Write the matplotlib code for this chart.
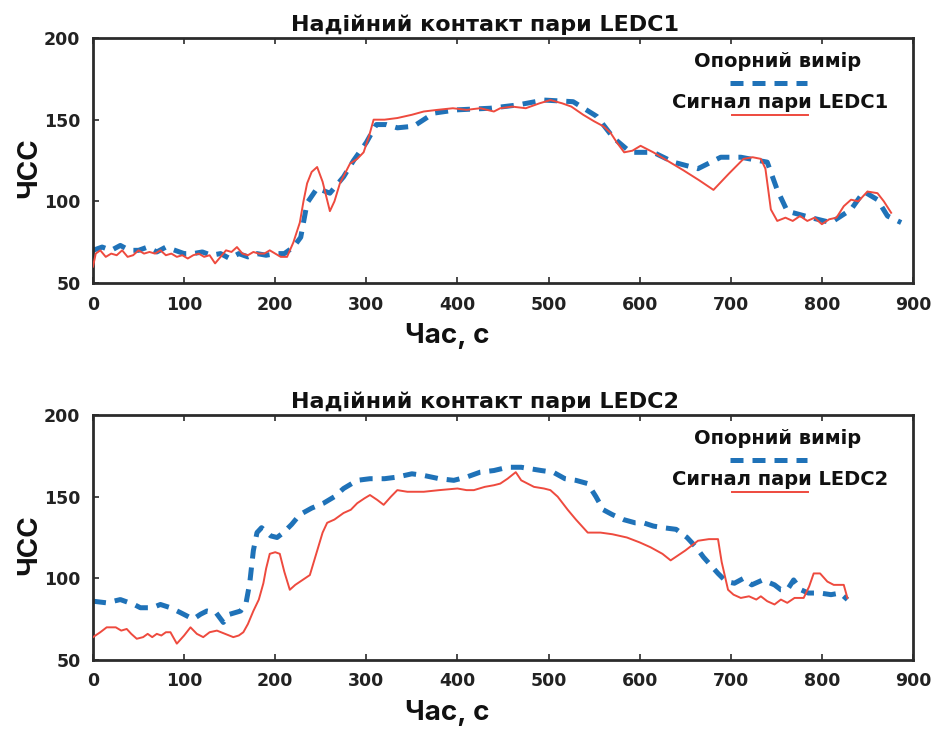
import matplotlib
matplotlib.use("Agg")
import matplotlib.pyplot as plt

plt.rcParams['font.family'] = ['DejaVu Sans']
plt.rcParams['font.weight'] = 'bold'

# ---------------- data ----------------
titles = ["Надійний контакт пари LEDC1", "Надійний контакт пари LEDC2"]
ref_label = "Опорний вимір"
sig_labels = ["Сигнал пари LEDC1", "Сигнал пари LEDC2"]
x_label = "Час, с"
y_label = "ЧСС"
x_ticks = [0, 100, 200, 300, 400, 500, 600, 700, 800, 900]
y_ticks = [50, 100, 150, 200]

# Panel 1 reference (blue dashed)
t_ref1 = [0, 10, 20, 30, 40, 50, 60, 70, 80, 90, 100, 110, 120, 130, 140, 150, 160, 170, 180,
          190, 200, 210, 220, 228, 235, 246, 260, 275, 286, 300, 311, 322, 334, 352, 374, 399,
          436, 466, 495, 527, 553, 571, 590, 615, 637, 664, 689, 711, 740, 751, 762, 788, 810,
          832, 846, 861, 872, 887]
v_ref1 = [70, 72, 70, 73, 70, 70, 72, 69, 72, 70, 68, 68, 69, 67, 68, 65, 68, 66, 68,
          67, 68, 68, 72, 78, 99, 108, 105, 115, 125, 136, 147, 147, 145, 146, 154, 156,
          157, 159, 162, 161, 152, 139, 130, 130, 124, 120, 127, 127, 124, 107, 94, 90, 87,
          95, 106, 101, 91, 87]

# Panel 1 signal (red)
t_sig1 = [0, 3, 8, 14, 20, 26, 32, 38, 44, 50, 56, 62, 68, 74, 80, 86, 92, 98, 104, 110,
          116, 122, 128, 134, 140, 146, 152, 158, 164, 170, 176, 182, 188, 194, 200, 206, 213,
          220, 227, 231, 235, 240, 246, 252, 260, 265, 271, 282, 290, 297, 303, 308, 320, 334,
          350, 363, 378, 395, 410, 425, 440, 447, 460, 475, 490, 502, 515, 525, 538, 550, 560,
          568, 575, 583, 592, 601, 608, 615, 630, 648, 665, 681, 698, 714, 724, 733, 738, 744,
          751, 760, 768, 776, 784, 792, 800, 808, 816, 824, 832, 840, 850, 861, 868, 876]
v_sig1 = [60, 68, 70, 66, 68, 67, 70, 66, 67, 70, 68, 69, 68, 70, 67, 68, 66, 67, 65, 67,
          68, 66, 67, 62, 66, 70, 69, 72, 68, 67, 69, 68, 68, 70, 68, 66, 66,
          75, 87, 100, 111, 118, 121, 112, 94, 100, 111, 123, 126, 130, 140, 150, 150, 151,
          153, 155, 156, 157, 156, 157, 155, 157, 158, 157, 160, 162, 160, 158, 153, 149, 146,
          142, 136, 130, 131, 134, 132, 130, 125, 119, 113, 107, 117, 126, 127, 126, 120, 95,
          88, 90, 88, 91, 88, 90, 86, 89, 90, 97, 101, 100, 106, 105, 100, 93]

# Panel 2 reference (blue dashed)
t_ref2 = [0, 15, 30, 45, 52, 65, 74, 85, 96, 110, 118, 125, 135, 143, 150, 162, 168, 172, 176,
          180, 185, 195, 202, 209, 218, 227, 240, 253, 265, 275, 290, 304, 320, 334, 350, 363,
          380, 396, 410, 425, 440, 455, 470, 492, 505, 518, 530, 543, 552, 560, 570, 582, 595,
          604, 615, 626, 640, 652, 662, 670, 686, 695, 704, 714, 723, 735, 748, 755, 762, 769,
          777, 785, 798, 810, 820, 828]
v_ref2 = [86, 85, 87, 84, 82, 82, 84, 82, 79, 75, 78, 80, 79, 73, 78, 80, 85, 97, 117,
          128, 131, 126, 125, 128, 133, 139, 143, 146, 150, 155, 160, 161, 161, 162, 164, 163,
          161, 160, 162, 165, 166, 168, 168, 166, 165, 161, 160, 158, 150, 142, 139, 136, 134,
          134, 132, 131, 130, 125, 119, 113, 103, 98, 97, 100, 96, 99, 96, 93, 93, 99,
          93, 91, 91, 90, 91, 87]

# Panel 2 signal (red)
t_sig2 = [0, 8, 15, 25, 31, 37, 42, 48, 55, 60, 65, 70, 75, 80, 85, 92, 100, 107, 114, 121,
          128, 136, 145, 154, 160, 165, 170, 176, 182, 187, 190, 194, 200, 205, 210, 216, 222,
          230, 238, 245, 252, 257, 265, 275, 283, 290, 298, 304, 312, 319, 327, 334, 345, 363,
          380, 400, 410, 418, 430, 440, 447, 455, 464, 470, 477, 484, 495, 502, 510, 521, 530,
          543, 557, 570, 586, 600, 612, 625, 634, 650, 664, 676, 686, 690, 697, 703, 711, 720,
          728, 733, 740, 748, 755, 762, 770, 780, 786, 791, 798, 806, 813, 820, 824, 828]
v_sig2 = [64, 67, 70, 70, 68, 69, 66, 63, 64, 66, 64, 66, 65, 67, 67, 60, 65, 70, 66, 64,
          67, 68, 66, 64, 65, 67, 72, 80, 87, 97, 106, 115, 116, 115, 104, 93, 96,
          99, 102, 115, 128, 134, 136, 140, 142, 146, 149, 151, 148, 145, 150, 154, 153, 153,
          154, 155, 154, 154, 156, 157, 158, 161, 165, 160, 158, 156, 155, 154, 150, 142, 136,
          128, 128, 127, 125, 122, 119, 115, 111, 117, 123, 124, 124, 110, 93, 90, 88, 89,
          87, 89, 86, 84, 87, 85, 88, 88, 95, 103, 103, 98, 96, 96, 96, 88]

panels = [(t_ref1, v_ref1, t_sig1, v_sig1), (t_ref2, v_ref2, t_sig2, v_sig2)]

# ---------------- style ----------------
blue = "#1f72b8"
red = "#ee4a3e"
spine_c = "#2b2b2b"
txt_c = "#111111"

fig = plt.figure(figsize=(9.37, 7.31), dpi=100)
W, H = 937, 731
boxes = [(93, 38, 913, 283), (93, 415, 913, 660)]

for i, ((tr, vr, ts, vs), (l, t, r, b)) in enumerate(zip(panels, boxes)):
    ax = fig.add_axes([l / W, 1 - b / H, (r - l) / W, (b - t) / H])
    ax.plot(tr, vr, color=blue, lw=3.6, dashes=[2.6, 1.8], dash_capstyle='butt', zorder=2)
    ax.plot(ts, vs, color=red, lw=1.4, zorder=3)
    ax.set_xlim(0, 900)
    ax.set_ylim(50, 200)
    ax.set_xticks(x_ticks)
    ax.set_yticks(y_ticks)
    ax.tick_params(direction='in', length=4, width=1.2, color=spine_c, top=True, right=False,
                   labelsize=12.5, pad=9)
    for lab in ax.get_xticklabels() + ax.get_yticklabels():
        lab.set_fontweight('bold')
        lab.set_color('#222222')
    for s in ax.spines.values():
        s.set_linewidth(2.0)
        s.set_color(spine_c)
    ax.set_title(titles[i], fontsize=16, fontweight='bold', x=0.478, pad=5, color=txt_c)
    ax.set_xlabel(x_label, fontsize=20, fontweight='bold', color=txt_c,
                  family=['Inter', 'DejaVu Sans'])
    ax.xaxis.set_label_coords(0.432, -0.165)
    ax.set_ylabel(y_label, fontsize=20, fontweight='bold', color=txt_c,
                  family=['Inter', 'DejaVu Sans'])
    ax.yaxis.set_label_coords(-0.062, 0.47)

    # legend (custom layout: label above its line sample)
    ax.text(0.835, 0.905, ref_label, transform=ax.transAxes, ha='center', va='center',
            fontsize=14, fontweight='bold', color=txt_c)
    ax.plot([0.777, 0.871], [0.818, 0.818], transform=ax.transAxes, color=blue, lw=3.6,
            dashes=[2.6, 1.8], dash_capstyle='butt', clip_on=False)
    ax.text(0.838, 0.735, sig_labels[i], transform=ax.transAxes, ha='center', va='center',
            fontsize=14, fontweight='bold', color=txt_c)
    ax.plot([0.779, 0.872], [0.684, 0.684], transform=ax.transAxes, color=red, lw=1.4,
            clip_on=False)

fig.savefig("out.png", dpi=100)
